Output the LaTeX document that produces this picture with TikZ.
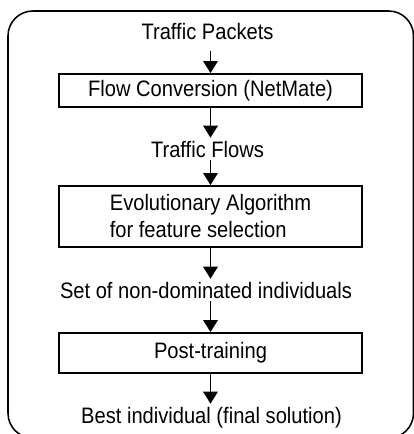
\documentclass[tikz,border=0pt]{standalone}
\usepackage{fontspec}
\setmainfont[FakeStretch=0.9]{Liberation Sans}
\usetikzlibrary{arrows.meta,calc,positioning}

\tikzset{
  stage/.style={draw,line width=1.3pt,inner sep=0pt,minimum width=303*0.025cm,align=left},
  label/.style={anchor=base,inner sep=2pt},
  arr/.style={line width=1.4pt,-{Triangle[length=0.3cm,width=0.36cm]}}
}

\begin{document}
\begin{tikzpicture}[x=0.025cm,y=-0.025cm,font=\fontsize{15.9}{19.2}\selectfont]
\clip (0,0) rectangle (414,434);
\draw[line width=1.1pt,rounded corners=0.62cm] (8,11) rectangle (413.5,438);
% stages and data
\node[label] (packets) at (207.5,39) {Traffic Packets};
\node[stage,minimum height=33*0.025cm] (conv) at (210.5,90.5) {Flow Conversion (NetMate)};
\node[label] (flows) at (207.5,157) {Traffic Flows};
\node[stage,minimum height=61*0.025cm] (evo) at (210.5,216.5) {Evolutionary Algorithm\\for feature selection};
\node[label] (set) at (206,298) {Set of non-dominated individuals};
\node[stage,minimum height=40*0.025cm] (post) at (210.5,353) {Post-training};
\node[label] (best) at (211.5,423) {Best individual (final solution)};
% arrows
\draw[arr,shorten <=6pt] (packets.south -| conv) -- (conv.north);
\draw[arr] (conv.south) -- (flows.north -| conv);
\draw[arr] (flows.south -| evo) -- (evo.north);
\draw[arr] (evo.south) -- (set.north -| evo);
\draw[arr] (set.south -| post) -- (post.north);
\draw[arr] (post.south) -- (best.north -| post);
\end{tikzpicture}
\end{document}
